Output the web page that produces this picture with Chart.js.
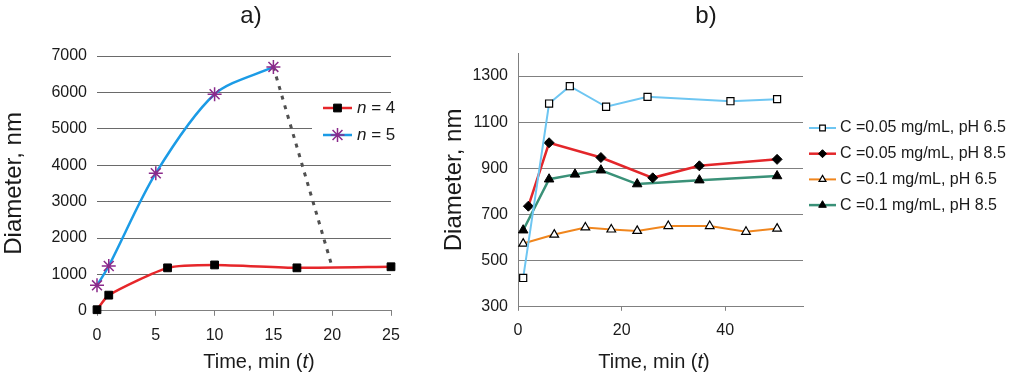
<!DOCTYPE html>
<html lang="en">
<head>
<meta charset="UTF-8">
<title>Diameter vs time</title>
<script src="https://cdn.jsdelivr.net/npm/chart.js"></script>
<style>
  body { margin: 0; background: #fff; font-family: "Liberation Sans", Arial, sans-serif; color: #1a1a1a; }
  .wrap { position: relative; width: 1024px; height: 375px; overflow: hidden; }
  canvas { position: absolute; top: 0; }
  #chartA { left: 0; }
  #chartB { left: 430px; }
  .panel { position: absolute; top: 1px; font-size: 24px; line-height: 28px; transform: translateX(-50%); }
  .xtitle { position: absolute; top: 349px; font-size: 20px; line-height: 24px; transform: translateX(-50%); white-space: nowrap; }
</style>
</head>
<body>
<div class="wrap">
  <canvas id="chartA" width="420" height="375"></canvas>
  <canvas id="chartB" width="594" height="375"></canvas>
  <div class="panel" style="left:251px">a)</div>
  <div class="panel" style="left:706px">b)</div>
  <div class="xtitle" style="left:259px">Time, min (<i>t</i>)</div>
  <div class="xtitle" style="left:654px">Time, min (<i>t</i>)</div>
</div>

<script>
// panel a) data
const timeA4 = [0, 1, 6, 10, 17, 25];
const diamA4 = [30, 430, 1180, 1260, 1180, 1210];
const timeA5 = [0, 1, 5, 10, 15];
const diamA5 = [700, 1230, 3780, 5950, 6700];
const timeDrop = [15, 20];
const diamDrop = [6700, 1200];
const legendA = ['n = 4', 'n = 5'];

// panel b) data
const timeB1 = [1, 6, 10, 17, 25, 41, 50];
const diamB1 = [425, 1181, 1256, 1167, 1210, 1191, 1200];
const timeB2 = [2, 6, 16, 26, 35, 50];
const diamB2 = [736, 1011, 947, 859, 911, 939];
const timeB3 = [1, 7, 13, 18, 23, 29, 37, 44, 50];
const diamB3 = [574, 613, 644, 635, 629, 650, 650, 625, 639];
const timeB4 = [1, 6, 11, 16, 23, 35, 50];
const diamB4 = [632, 853, 874, 892, 832, 849, 867];
const legendB = ['C =0.05 mg/mL, pH 6.5', 'C =0.05 mg/mL, pH 8.5', 'C =0.1 mg/mL, pH 6.5', 'C =0.1 mg/mL, pH 8.5'];
const yTicksB = [300, 500, 700, 900, 1100, 1300];
const xTicksB = [0, 20, 40];

const FONT = '"Liberation Sans", Arial, sans-serif';
const TXT = '#1a1a1a';
const pts = (xs, ys) => xs.map((x, i) => ({ x: x, y: ys[i] }));
const plain = v => String(v); // no thousands separators

// legend with a line sample + marker, drawn where we want it
const lineLegend = {
    id: 'lineLegend',
    beforeDatasetsDraw(chart, args, opts) {
        if (!opts.box) return;
        chart.ctx.save();
        chart.ctx.fillStyle = '#fff';
        chart.ctx.fillRect(opts.box[0], opts.box[1], opts.box[2], opts.box[3]);
        chart.ctx.restore();
    },
    afterDraw(chart, args, opts) {
        const ctx = chart.ctx;
        ctx.save();
        let y = opts.y;
        chart.data.datasets.forEach(ds => {
            if (!ds.label) return;
            const x0 = opts.x, x1 = opts.x + opts.lineLength;
            ctx.setLineDash([]);
            ctx.strokeStyle = ds.borderColor;
            ctx.lineWidth = ds.borderWidth;
            ctx.beginPath();
            ctx.moveTo(x0, y);
            ctx.lineTo(x1, y);
            ctx.stroke();
            if (Chart.helpers && Chart.helpers.drawPoint) {
                ctx.fillStyle = ds.pointBackgroundColor;
                ctx.strokeStyle = ds.pointBorderColor;
                ctx.lineWidth = ds.pointBorderWidth;
                Chart.helpers.drawPoint(ctx, {
                    pointStyle: ds.pointStyle,
                    radius: ds.pointRadius * (opts.markerScale || 1),
                    rotation: 0,
                    borderWidth: ds.pointBorderWidth
                }, (x0 + x1) / 2, y);
            }
            ctx.fillStyle = TXT;
            ctx.textBaseline = 'middle';
            ctx.textAlign = 'left';
            let tx = x1 + opts.gap;
            if (opts.italicVar) {
                const v = ds.label.charAt(0);
                ctx.font = 'italic ' + opts.fontSize + 'px ' + FONT;
                ctx.fillText(v, tx, y);
                tx += ctx.measureText(v).width;
                ctx.font = opts.fontSize + 'px ' + FONT;
                ctx.fillText(ds.label.slice(1), tx, y);
            } else {
                ctx.font = opts.fontSize + 'px ' + FONT;
                ctx.fillText(ds.label, tx, y);
            }
            y += opts.rowHeight;
        });
        ctx.restore();
    }
};

const chartA = new Chart(document.getElementById('chartA'), {
    type: 'line',
    data: {
        datasets: [
            {
                label: legendA[0],
                data: pts(timeA4, diamA4),
                borderColor: '#e6262a',
                borderWidth: 2.5,
                tension: 0.2,
                pointStyle: 'rect',
                pointRadius: 5.5,
                pointBackgroundColor: '#000',
                pointBorderColor: '#000',
                pointBorderWidth: 1,
                clip: false
            },
            {
                label: legendA[1],
                data: pts(timeA5, diamA5),
                borderColor: '#1b9be6',
                borderWidth: 2.5,
                tension: 0.3,
                pointStyle: 'star',
                pointRadius: 7,
                pointBackgroundColor: '#8b2a8b',
                pointBorderColor: '#8b2a8b',
                pointBorderWidth: 1.5,
                clip: false
            },
            {
                label: '',
                data: pts(timeDrop, diamDrop),
                borderColor: '#505050',
                borderWidth: 3,
                borderDash: [4, 6],
                pointRadius: 0
            }
        ]
    },
    options: {
        responsive: false,
        animation: false,
        layout: { padding: { left: 0, right: 29, top: 56, bottom: 20 } },
        plugins: {
            legend: { display: false },
            tooltip: { enabled: false },
            lineLegend: { x: 323, y: 108, lineLength: 29, gap: 5, rowHeight: 27, fontSize: 17, italicVar: true, box: [312, 96, 90, 52] }
        },
        scales: {
            x: {
                type: 'linear',
                min: 0,
                max: 25,
                ticks: { stepSize: 5, callback: plain, color: TXT, font: { family: FONT, size: 16 }, padding: 10, maxRotation: 0 },
                grid: { drawOnChartArea: false, drawTicks: true, tickLength: 5, color: '#808080' },
                border: { color: '#808080' }
            },
            y: {
                min: 0,
                max: 7000,
                afterFit: axis => { axis.width = 97; },
                ticks: { stepSize: 1000, callback: plain, color: TXT, font: { family: FONT, size: 16 }, padding: 10 },
                grid: { color: '#6a6a6a', drawTicks: false },
                border: { display: false },
                title: { display: true, text: 'Diameter, nm', color: TXT, font: { family: FONT, size: 24 }, padding: { top: 0, bottom: 0 } }
            }
        }
    },
    plugins: [lineLegend]
});

const chartB = new Chart(document.getElementById('chartB'), {
    type: 'line',
    data: {
        datasets: [
            {
                label: legendB[0],
                data: pts(timeB1, diamB1),
                borderColor: '#6ec6f2',
                borderWidth: 2,
                pointStyle: 'rect',
                pointRadius: 5,
                pointBackgroundColor: '#fff',
                pointBorderColor: '#000',
                pointBorderWidth: 1.2,
                clip: false
            },
            {
                label: legendB[1],
                data: pts(timeB2, diamB2),
                borderColor: '#e3262a',
                borderWidth: 2.5,
                pointStyle: 'rectRot',
                pointRadius: 5,
                pointBackgroundColor: '#000',
                pointBorderColor: '#000',
                pointBorderWidth: 1,
                clip: false
            },
            {
                label: legendB[2],
                data: pts(timeB3, diamB3),
                borderColor: '#f0861e',
                borderWidth: 2,
                pointStyle: 'triangle',
                pointRadius: 5,
                pointBackgroundColor: '#fff',
                pointBorderColor: '#000',
                pointBorderWidth: 1.2,
                clip: false
            },
            {
                label: legendB[3],
                data: pts(timeB4, diamB4),
                borderColor: '#3a9178',
                borderWidth: 2.5,
                pointStyle: 'triangle',
                pointRadius: 5.5,
                pointBackgroundColor: '#000',
                pointBorderColor: '#000',
                pointBorderWidth: 1,
                clip: false
            }
        ]
    },
    options: {
        responsive: false,
        animation: false,
        layout: { padding: { left: 0, right: 221, top: 53, bottom: 25 } },
        plugins: {
            legend: { display: false },
            tooltip: { enabled: false },
            lineLegend: { x: 379, y: 128, lineLength: 27, gap: 4, rowHeight: 25.7, fontSize: 16, markerScale: 0.8 }
        },
        scales: {
            x: {
                type: 'linear',
                min: 0,
                max: 55,
                afterBuildTicks: axis => { axis.ticks = xTicksB.map(v => ({ value: v })); },
                ticks: { callback: plain, color: TXT, font: { family: FONT, size: 16 }, padding: 10, maxRotation: 0 },
                grid: { drawOnChartArea: false, drawTicks: true, tickLength: 4, color: '#808080' },
                border: { color: '#808080' }
            },
            y: {
                min: 300,
                max: 1400,
                afterBuildTicks: axis => { axis.ticks = yTicksB.map(v => ({ value: v })); },
                afterFit: axis => { axis.width = 88; },
                ticks: { callback: plain, color: TXT, font: { family: FONT, size: 16 }, padding: 10 },
                grid: { color: '#808080', drawTicks: false },
                border: { color: '#808080' },
                title: { display: true, text: 'Diameter, nm', color: TXT, font: { family: FONT, size: 24 }, padding: { top: 10, bottom: 0 } }
            }
        }
    },
    plugins: [lineLegend]
});
</script>
</body>
</html>
